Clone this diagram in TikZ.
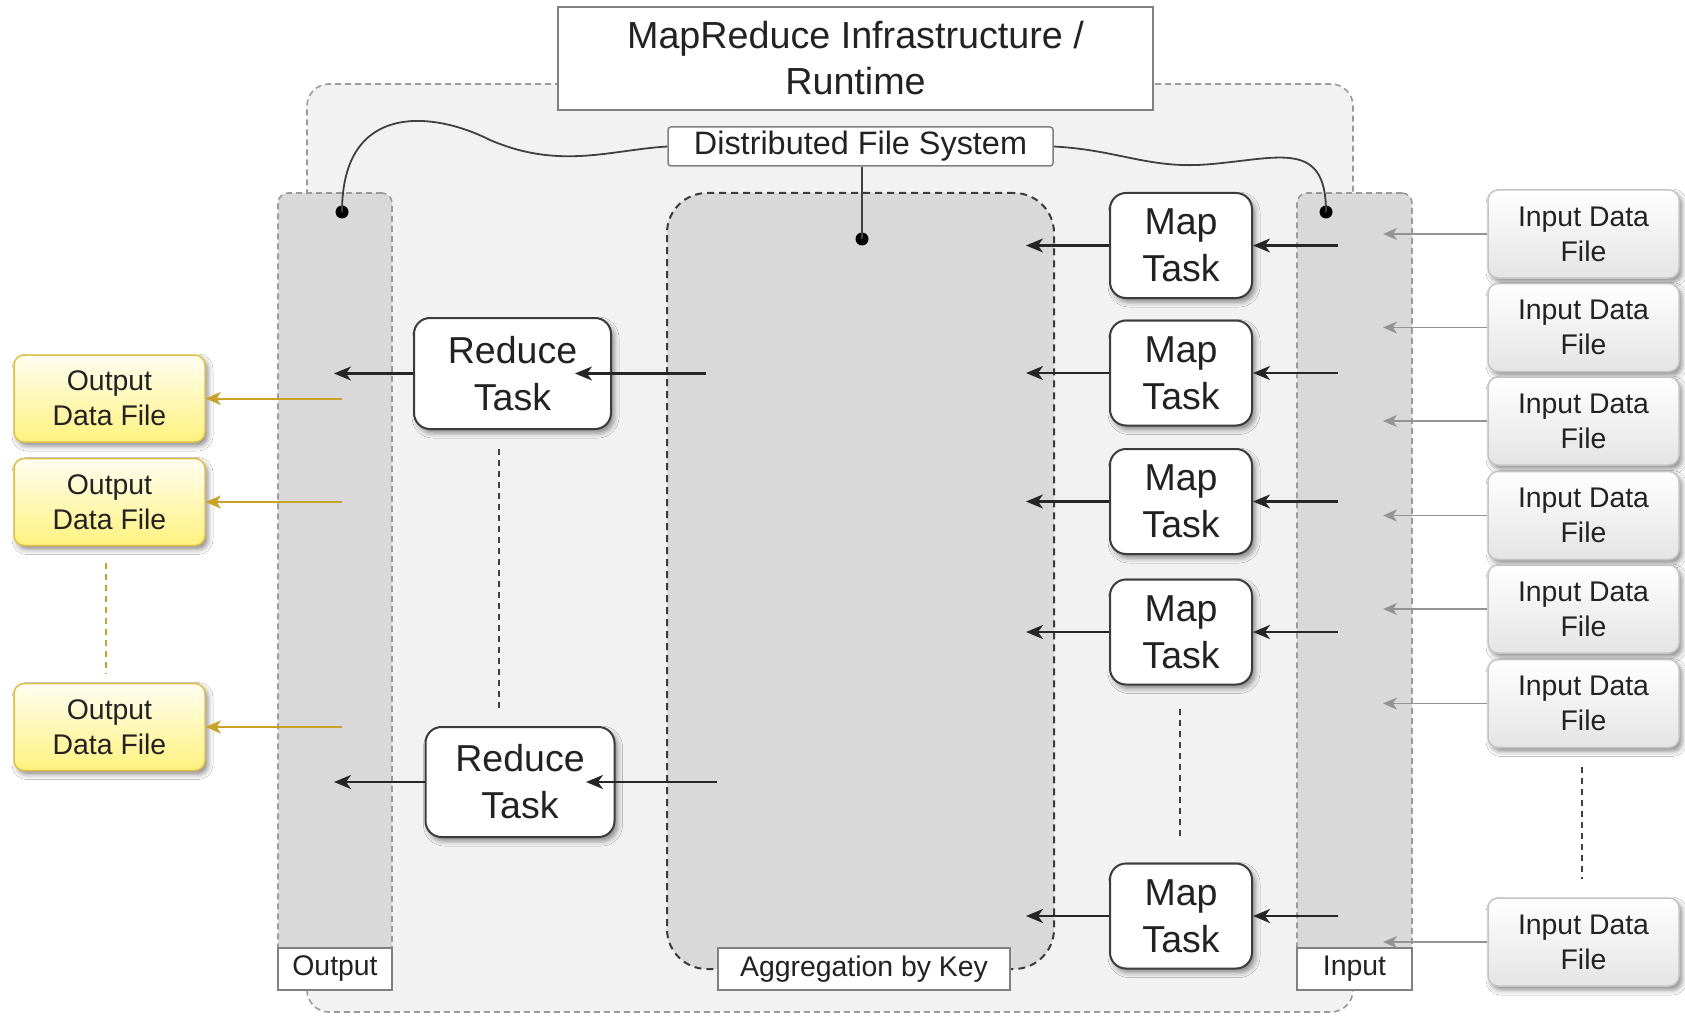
\documentclass[tikz,border=0pt]{standalone}
\usepackage{fontspec}
\setmainfont{Liberation Sans}
\usetikzlibrary{arrows.meta,shadows.blur}

\definecolor{bgpanel}{HTML}{F2F2F2}
\definecolor{colfill}{HTML}{D9D9D9}
\definecolor{dashgray}{HTML}{9A9A9A}
\definecolor{aggline}{HTML}{3A3A3A}
\definecolor{taskline}{HTML}{3C3C3C}
\definecolor{goldline}{HTML}{C9A227}
\definecolor{goldedge}{HTML}{E0BE4A}
\definecolor{yellowtop}{HTML}{FFFEF2}
\definecolor{yellowbot}{HTML}{FFF27E}
\definecolor{grayedge}{HTML}{C4C4C4}
\definecolor{graybot}{HTML}{E4E4E4}
\definecolor{txt}{HTML}{222222}
\definecolor{tagline}{HTML}{808080}

\begin{document}
\begin{tikzpicture}[x=1pt,y=-1pt,
  panel/.style={draw=dashgray, dash pattern=on 6pt off 4pt, line width=1.6pt, fill=bgpanel, rounded corners=22pt, inner sep=0pt},
  column/.style={draw=dashgray, dash pattern=on 6pt off 4pt, line width=1.6pt, fill=colfill, rounded corners=10pt, inner sep=0pt},
  aggbox/.style={draw=aggline, dash pattern=on 7pt off 5pt, line width=2pt, fill=colfill, rounded corners=40pt, inner sep=0pt},
  tag/.style={draw=tagline, line width=1.5pt, fill=white, font=\fontsize{28.4}{34}\selectfont, text=txt, inner sep=0pt, minimum height=42pt},
  sh/.style={blur shadow={shadow xshift=3pt, shadow yshift=-4pt, shadow blur radius=5pt, shadow opacity=45}},
  task/.style={rectangle, rounded corners=16pt, draw=taskline, line width=2pt, fill=white, align=center, font=\fontsize{37.5}{47}\selectfont, text=txt, inner sep=0pt, sh},
  infile/.style={rectangle, rounded corners=10pt, draw=grayedge, line width=1.5pt, top color=white, bottom color=graybot, align=center, font=\fontsize{28.4}{35}\selectfont, text=txt, minimum width=191pt, minimum height=88pt, inner sep=0pt, sh},
  outfile/.style={rectangle, rounded corners=10pt, draw=goldedge, line width=1.5pt, top color=yellowtop, bottom color=yellowbot, align=center, font=\fontsize{28.4}{35}\selectfont, text=txt, minimum width=191pt, minimum height=87pt, inner sep=0pt, sh},
  blk/.style={draw=black!85, line width=2.3pt, -{Stealth[length=17pt,width=14pt,inset=5pt]}},
  garrow/.style={draw=gray!85, line width=1.5pt, -{Stealth[length=14pt,width=12pt,inset=4pt]}},
  goldarrow/.style={draw=goldline, line width=2pt, -{Stealth[length=15pt,width=13pt,inset=4pt]}},
  ellip/.style={draw=black!75, line width=1.6pt, dash pattern=on 6pt off 5pt},
  gellip/.style={draw=goldline, line width=1.5pt, dash pattern=on 6pt off 5pt},
  wire/.style={draw=black!75, line width=1.8pt},
  dot/.style={circle, fill=black, inner sep=0pt, minimum size=13pt}
]
\useasboundingbox (0,0) rectangle (1685,1016);
\fill[white] (0,0) rectangle (1685,1016);

% containers
\node[panel, minimum width=1046pt, minimum height=928pt] (panel) at (830,548) {};
\node[column, minimum width=114pt, minimum height=797pt] (outcol) at (335,591.5) {};
\node[column, minimum width=115pt, minimum height=797pt] (incol) at (1354.5,591.5) {};
\node[aggbox, minimum width=387pt, minimum height=776pt] (agg) at (860.5,581) {};

% labels of containers
\node[tag, minimum width=114pt] (outtag) at (335,969) {Output};
\node[tag, minimum width=115pt] (intag) at (1354.5,969) {Input};
\node[tag, minimum width=292pt] (aggtag) at (864,969) {Aggregation by Key};

% title and DFS
\node[draw=tagline, line width=1.5pt, fill=white, minimum width=595pt, minimum height=103pt, align=center, inner sep=0pt, text=txt, font=\fontsize{37.7}{46}\selectfont] (title) at (855.5,58.5) {MapReduce Infrastructure /\\Runtime};
\node[draw=tagline, line width=1.5pt, fill=white, rounded corners=3pt, minimum width=385pt, minimum height=39pt, inner sep=0pt, text=txt, font=\fontsize{32.4}{38}\selectfont] (dfs) at (860.5,146.5) {Distributed File System};

% dots and wires
\node[dot] (outdot) at (342,212) {};
\node[dot] (aggdot) at (862,239) {};
\node[dot] (indot) at (1326,212) {};
\draw[wire] (dfs.west) .. controls (610,150) and (560,170) .. (490,140) .. controls (435,112) and (342,100) .. (outdot.center);
\draw[wire] (dfs.east) .. controls (1120,150) and (1150,170) .. (1212,164) .. controls (1280,158) and (1326,140) .. (indot.center);
\draw[wire] (dfs.south -| aggdot) -- (aggdot.center);

% map tasks
\foreach \i/\y in {1/245.5, 2/373, 3/501.5, 4/632, 5/916} {
  \node[task, minimum width=142pt, minimum height=105pt] (map\i) at (1181,\y) {Map\\Task};
  \coordinate (mapout\i) at (1026,\y);
  \coordinate (mapin\i) at (1338,\y);
  \draw[blk] (map\i.west) -- (mapout\i);
  \draw[blk] (mapin\i) -- (map\i.east);
}

% reduce tasks
\node[task, minimum width=197pt, minimum height=111pt] (red1) at (512.5,373.5) {Reduce\\Task};
\node[task, minimum width=189pt, minimum height=110pt] (red2) at (520,782) {Reduce\\Task};
\coordinate (redsrc1) at (706,373.5);
\coordinate (redtip1) at (575,373.5);
\coordinate (redsrc2) at (717,782);
\coordinate (redtip2) at (586,782);
\coordinate (redout1) at (334,373.5);
\coordinate (redout2) at (334,782);
\draw[blk] (redsrc1) -- (redtip1);
\draw[blk] (redsrc2) -- (redtip2);
\draw[blk] (red1.west) -- (redout1);
\draw[blk] (red2.west) -- (redout2);

% output data files
\foreach \i/\y in {1/398.5, 2/502, 3/727} {
  \node[outfile] (of\i) at (109.5,\y) {Output\\Data File};
  \coordinate (ofsrc\i) at (342,\y);
  \draw[goldarrow] (ofsrc\i) -- (of\i.east);
}

% input data files
\foreach \i/\y in {1/234, 2/327.5, 3/421, 4/515.5, 5/609, 6/703.5, 7/942} {
  \node[infile] (if\i) at (1583.5,\y) {Input Data\\File};
  \coordinate (iftip\i) at (1383,\y);
  \draw[garrow] (if\i.west) -- (iftip\i);
}

% ellipsis lines
\coordinate (re1) at (499,449);
\coordinate (re2) at (499,709);
\draw[ellip] (re1) -- (re2);
\coordinate (me1) at (1180,709);
\coordinate (me2) at (1180,838);
\draw[ellip] (me1) -- (me2);
\coordinate (ie1) at (1582,767);
\coordinate (ie2) at (1582,879);
\draw[ellip] (ie1) -- (ie2);
\coordinate (oe1) at (106,563);
\coordinate (oe2) at (106,674);
\draw[gellip] (oe1) -- (oe2);
\end{tikzpicture}
\end{document}
